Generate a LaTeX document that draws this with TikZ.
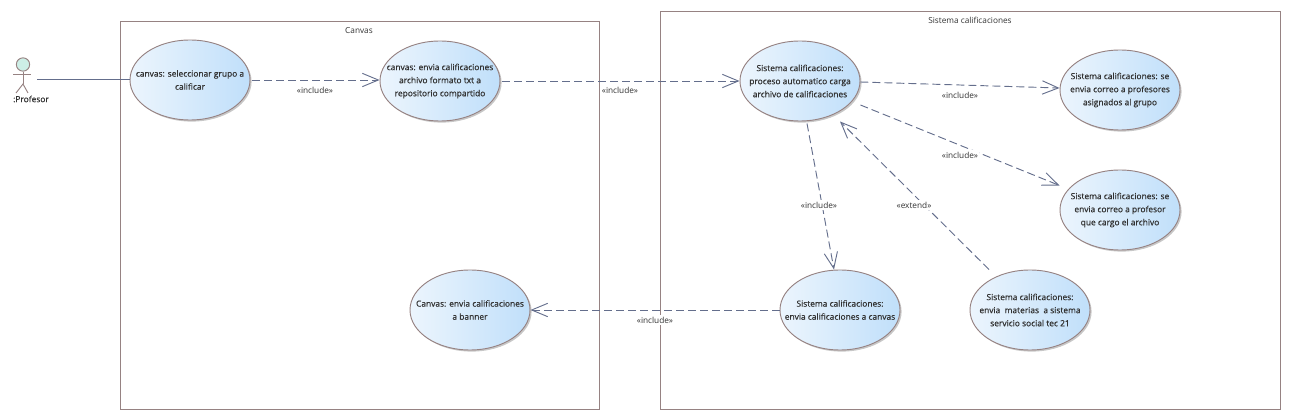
\documentclass[tikz,border=0pt]{standalone}
\usepackage{fontspec}
\setmainfont{Open Sans}
\newfontfamily\casefont[FakeBold=0.6]{Open Sans}
\usetikzlibrary{arrows.meta,shapes.geometric,shadows}
\definecolor{framecol}{RGB}{150,130,130}
\definecolor{linkcol}{RGB}{100,110,140}
\definecolor{textcol}{RGB}{50,50,50}
\definecolor{caseleft}{RGB}{236,245,253}
\definecolor{caseright}{RGB}{192,223,250}
\definecolor{headcol}{RGB}{205,238,230}
\tikzset{
  boundary/.style={draw=framecol,line width=0.7pt},
  usecase/.style={ellipse,draw=framecol,line width=0.7pt,minimum width=90pt,minimum height=60pt,inner sep=0pt,
    left color=caseleft,right color=caseright,shading angle=90,
    drop shadow={shadow xshift=1.2pt,shadow yshift=-1.2pt,fill=black,opacity=0.22}},
  casetext/.style={align=center,font=\fontsize{6.3}{9.8}\casefont,text=textcol,inner sep=0pt},
  linktext/.style={font=\fontsize{6.2}{7}\selectfont,text=textcol,fill=white,inner sep=1pt},
  titletext/.style={font=\fontsize{6.2}{7}\selectfont,text=textcol,inner sep=0pt},
  assoc/.style={draw=linkcol,line width=0.7pt},
  depend/.style={draw=linkcol,line width=0.7pt,dash pattern=on 6pt off 3pt,-{Straight Barb[length=12pt,width=10pt]}},
}
\begin{document}
\begin{tikzpicture}[x=0.75pt,y=0.75pt,yscale=-1,xscale=1]
\useasboundingbox (0,0) rectangle (1290,420);

%Boundaries
\draw [boundary] (120.5,21) rectangle (599.5,409);
\draw [boundary] (660.5,11) rectangle (1280,409);
\node [titletext] (canvastitle) at (359,31) {Canvas};
\node [titletext] (sistematitle) at (970,20.5) {Sistema calificaciones};

%Actor
\node [circle,draw=framecol,fill=headcol,line width=0.7pt,minimum size=10pt,inner sep=0pt] (head) at (23,64.5) {};
\coordinate (hip) at (23,84);
\coordinate (hand) at (37,79.5);
\draw [framecol,line width=0.7pt] (head.south) -- (hip) ;
\draw [framecol,line width=0.7pt] (13,74.5) -- (31,74.5) ;
\draw [framecol,line width=0.7pt] (16,93) -- (hip) -- (28,93) ;
\node [casetext] (profesor) at (31,99) {:Profesor};

%Use cases
\node [usecase] (seleccionar) at (190,80) {};
\node [usecase] (enviatxt) at (440,81) {};
\node [usecase] (proceso) at (800,81) {};
\node [usecase] (profesores) at (1120,90) {};
\node [usecase] (cargo) at (1120,210) {};
\node [usecase] (banner) at (470,310) {};
\node [usecase] (acanvas) at (840,310) {};
\node [usecase] (social) at (1030,310) {};

% Text Node
\node [casetext] (seleccionart) at (seleccionar) {canvas: seleccionar grupo a\\calificar};
\node [casetext] (enviatxtt) at (enviatxt) {canvas: envia calificaciones\\archivo formato txt a\\repositorio compartido};
\node [casetext] (procesot) at (proceso) {Sistema calificaciones:\\proceso automatico carga\\archivo de calificaciones};
\node [casetext] (profesorest) at (profesores) {Sistema calificaciones: se\\envia correo a profesores\\asignados al grupo};
\node [casetext] (cargot) at (cargo) {Sistema calificaciones: se\\envia correo a profesor\\que cargo el archivo};
\node [casetext] (bannert) at (banner) {Canvas: envia calificaciones\\a banner};
\node [casetext] (acanvast) at (acanvas) {Sistema calificaciones:\\envia calificaciones a canvas};
\node [casetext] (socialt) at (social) {Sistema calificaciones:\\envia\ \ materias\ \ a sistema\\servicio social tec 21};

%Connectors
\draw [assoc] (hand) -- (hand -| seleccionar.west) ;
\draw [depend] ([shift={(2,0)}]seleccionar.east) -- (enviatxt.west |- seleccionar.east) ;
\draw [depend] ([shift={(2,0)}]enviatxt.east) -- (proceso.west) ;
\draw [depend] ([shift={(0,1)}]proceso.east) -- ([shift={(0,-2)}]profesores.west) ;
\draw [depend] ([shift={(0,24)}]proceso.east) -- ([shift={(0,-24.5)}]cargo.west) ;
\draw [depend] ([shift={(7,2)}]proceso.south) -- ([shift={(-6,0)}]acanvas.north) ;
\draw [depend] ([shift={(-41,0)}]social.north) -- ([shift={(40,0)}]proceso.south) ;
\draw [depend] (acanvas.west) -- (banner.east) ;

%Connector labels
\node [linktext] (inc1) at (315,90) {«include»};
\node [linktext] (inc2) at (620,90.5) {«include»};
\node [linktext] (inc3) at (960,95) {«include»};
\node [linktext] (inc4) at (960,155) {«include»};
\node [linktext] (inc5) at (819,205) {«include»};
\node [linktext] (ext1) at (914,205) {«extend»};
\node [linktext] (inc6) at (655,320) {«include»};
\end{tikzpicture}
\end{document}
